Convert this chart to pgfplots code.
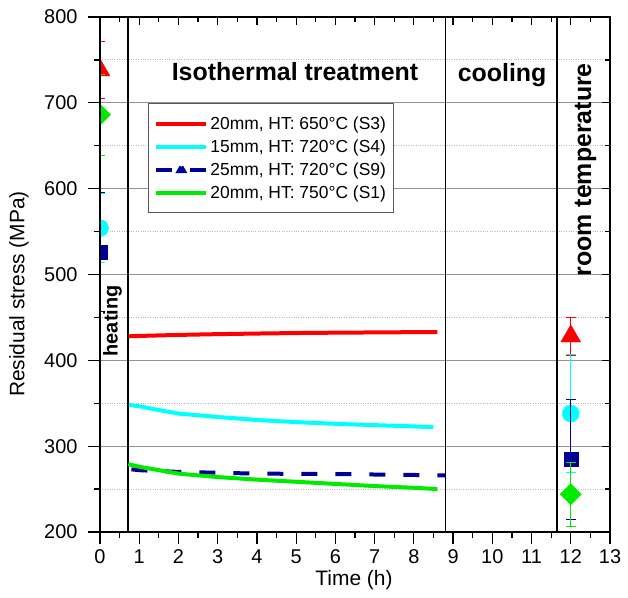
\documentclass[border=0pt]{standalone}
\usepackage{pgfplots}
\pgfplotsset{compat=1.18}
\usepackage{fontspec}
\setmainfont{Liberation Sans}
\definecolor{cRed}{RGB}{255,0,0}
\definecolor{cCyan}{RGB}{0,255,255}
\definecolor{cNavy}{RGB}{0,0,150}
\definecolor{cGreen}{RGB}{0,235,0}
\pgfplotsset{
  plainlegend/.style={legend image code/.code={\draw[##1] (0bp,0bp) -- (50bp,0bp);}},
  navylegend/.style={legend image code/.code={\draw[##1] (0bp,0bp) -- (50bp,0bp);
    \fill[cNavy] (25bp,3bp) -- (22.4bp,-1.5bp) -- (27.6bp,-1.5bp) -- cycle;}},
}
\begin{document}
\begin{tikzpicture}
\begin{axis}[
  scale only axis, width=510bp, height=515bp,
  xmin=0, xmax=13, ymin=200, ymax=800,
  xtick={0,1,...,13}, ytick={200,300,...,800},
  minor x tick num=1, minor y tick num=1,
  xtick pos=left, ytick pos=left, tick align=outside,
  major tick length=12bp, minor tick length=6bp,
  tick style={black, line width=1.3bp},
  axis line style={line width=1.6bp},
  ymajorgrids, yminorgrids,
  major grid style={gray!85, line width=0.9bp, solid},
  minor grid style={gray!55, dotted, line width=0.9bp},
  tick label style={font=\fontsize{20}{24}\selectfont},
  yticklabel style={xshift=-7bp},
  xticklabel style={yshift=-2bp},
  /pgf/number format/assume math mode=true,
  xlabel={Time (h)}, ylabel={Residual stress (MPa)},
  label style={font=\fontsize{21}{25}\selectfont},
  ylabel style={at={(axis description cs:-0.159,0.462)}, anchor=center},
  xlabel style={at={(axis description cs:0.498,-0.093)}, anchor=center},
  clip marker paths=true,
  plainlegend,
  legend style={at={(rel axis cs:0.094,0.833)}, anchor=north west,
    draw=gray!70!black, line width=0.9bp,
    font=\fontsize{17.5}{20}\selectfont, row sep=5bp,
    inner xsep=6bp, inner ysep=11bp},
  legend cell align=left,
]
% section boundaries
\draw[black, line width=1.2bp] (axis cs:0.714,200) -- (axis cs:0.714,800);
\draw[black, line width=1.2bp] (axis cs:8.8,200) -- (axis cs:8.8,800);
\draw[black, line width=1.2bp] (axis cs:11.65,200) -- (axis cs:11.65,800);

\addplot[cRed, line width=4bp] coordinates {
 (0.74,428) (1,428.4) (2,429.6) (3,430.5) (4,431.2) (5,431.8) (6,432.2) (7,432.5) (8.6,433)};
\addlegendentry{20mm, HT: 650°C (S3)}
\addplot[cCyan, line width=4bp] coordinates {
 (0.74,348) (1,346.5) (1.5,342) (2,338) (3,334) (4,330.5) (5,328) (6,326) (7,324.5) (8,323) (8.5,322)};
\addlegendentry{15mm, HT: 720°C (S4)}
\addplot[cNavy, line width=4bp, dash pattern=on 16bp off 18bp, navylegend] coordinates {
 (0.8,273) (1,272) (2,270) (3,269) (4,268) (6,267.5) (8.8,266)};
\addlegendentry{25mm, HT: 720°C (S9)}
\addplot[cGreen, line width=4bp] coordinates {
 (0.72,279) (1,276) (2,268) (3,264) (4,261) (5,258.5) (6,256) (7,253.5) (8,251.5) (8.6,250)};
\addlegendentry{20mm, HT: 750°C (S1)}

% markers with error bars
\addplot[forget plot, only marks, mark=triangle*, mark size=11.5bp, color=cRed,
  error bars/.cd, y dir=both, y explicit,
  error bar style={line width=0.9bp, cRed},
  error mark options={rotate=90, mark size=5bp, line width=0.9bp, cRed}]
  coordinates {(0,738) +- (0,33) (12,428) +- (0,22)};
\addplot[forget plot, only marks, mark=*, mark size=8.5bp, color=cCyan,
  error bars/.cd, y dir=both, y explicit,
  error bar style={line width=0.9bp, cCyan},
  error mark options={rotate=90, mark size=5bp, line width=0.9bp, cCyan}]
  coordinates {(0,554) +- (0,40) (12,338) +- (0,69)};
\addplot[forget plot, only marks, mark=square*, mark size=7bp, color=cNavy,
  error bars/.cd, y dir=both, y explicit,
  error bar style={line width=0.9bp, cNavy},
  error mark options={rotate=90, mark size=5bp, line width=0.9bp, cNavy}]
  coordinates {(0,526) +- (0,69) (12,284.5) +- (0,69.5)};
\addplot[forget plot, only marks, mark=square*, mark options={rotate=45}, mark size=7.5bp, color=cGreen,
  error bars/.cd, y dir=both, y explicit,
  error bar style={line width=0.9bp, cGreen},
  error mark options={rotate=90, mark size=5bp, line width=0.9bp, cGreen}]
  coordinates {(0,686) +- (0,47) (12,244) +- (0,37)};

% section labels
\node[font=\bfseries\fontsize{25}{30}\selectfont, anchor=base] at (axis cs:4.97,725.6) {Isothermal treatment};
\node[font=\bfseries\fontsize{25}{30}\selectfont, anchor=base] at (axis cs:10.25,724.5) {cooling};
\node[font=\bfseries\fontsize{25}{30}\selectfont, rotate=90, anchor=center] at (axis cs:12.38,622) {room temperature};
\node[font=\bfseries\fontsize{20}{24}\selectfont, rotate=90, anchor=center] at (axis cs:0.32,446) {heating};
\end{axis}
\begin{axis}[
  scale only axis, width=510bp, height=515bp,
  xmin=0, xmax=13, ymin=200, ymax=800,
  xtick={0,1,...,13}, ytick={200,300,...,800},
  minor x tick num=1, minor y tick num=1,
  xtick pos=right, ytick pos=right, tick align=inside,
  xticklabels={}, yticklabels={},
  major tick length=8bp, minor tick length=5bp,
  tick style={black, line width=1.3bp},
  axis line style={line width=1.4bp},
]
\end{axis}
\path ([shift={(-100bp,-66bp)}]current axis.south west) rectangle ([shift={(18bp,17bp)}]current axis.north east);
\end{tikzpicture}
\end{document}
